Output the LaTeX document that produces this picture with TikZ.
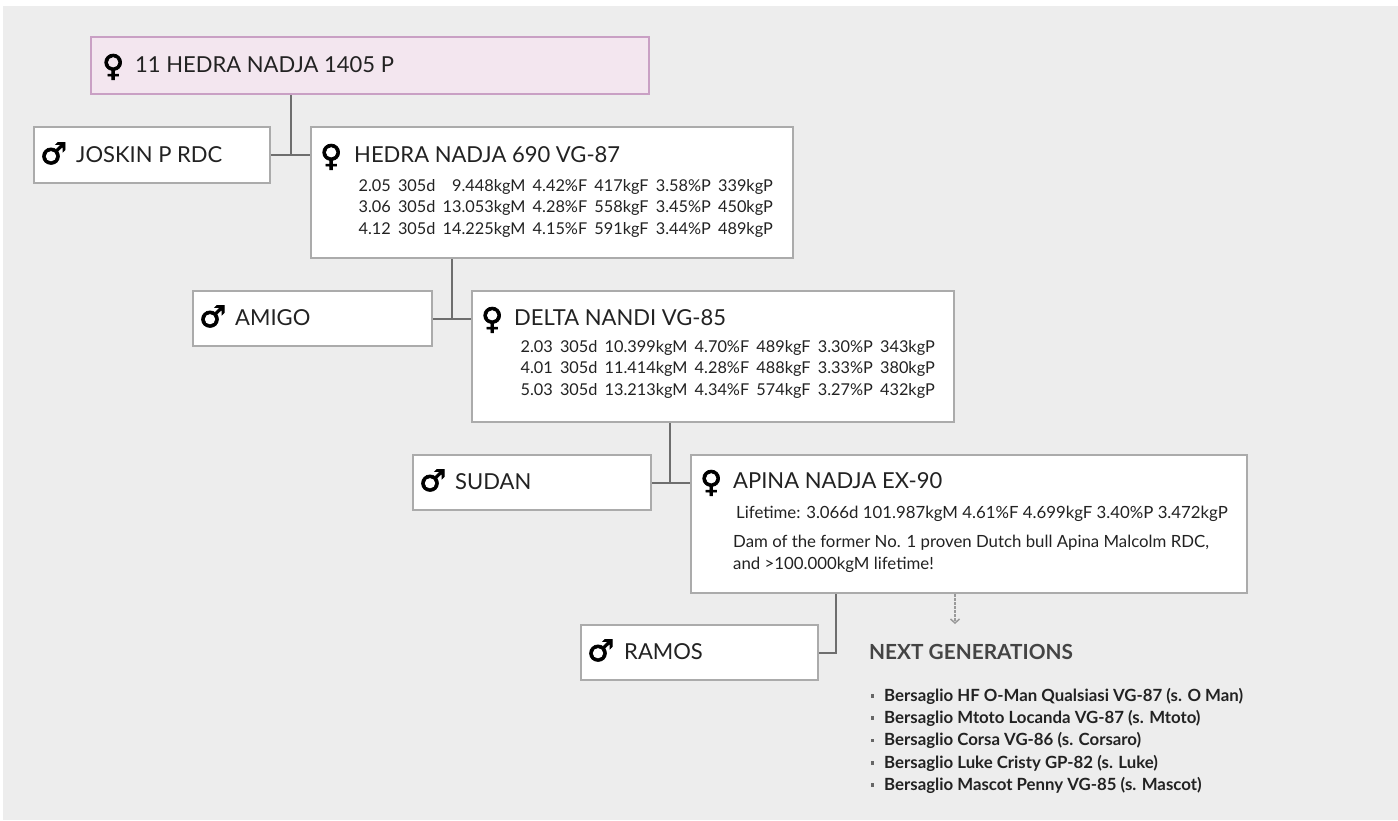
\documentclass[tikz,border=0pt]{standalone}
\usepackage{fontspec}
\setmainfont{Lato}
\newfontfamily\symfont[FakeBold=2.5]{DejaVu Sans Bold}
\usetikzlibrary{arrows.meta}
\definecolor{bg}{HTML}{EDEDED}
\definecolor{boxline}{HTML}{ABABAB}
\definecolor{pinkfill}{HTML}{F3E6EF}
\definecolor{pinkline}{HTML}{C9A0C4}
\definecolor{conn}{HTML}{6E6E6E}
\definecolor{txt}{HTML}{222222}
\definecolor{headtxt}{HTML}{444444}
\definecolor{arr}{HTML}{9A9A9A}
\definecolor{bul}{HTML}{666666}
\tikzset{
  box/.style={draw=boxline, line width=2pt, fill=white, rectangle, inner sep=0pt, anchor=north west},
  rootbox/.style={box, draw=pinkline, fill=pinkfill},
  link/.style={draw=conn, line width=2pt},
  nametxt/.style={anchor=base west, inner sep=0pt, text=txt, font=\fontsize{22}{26}\selectfont},
  sym/.style={anchor=base west, inner sep=0pt, text=black, font=\symfont\fontsize{30}{32}\selectfont},
  stats/.style={anchor=base east, inner sep=0pt, text=txt, font=\fontsize{16.3}{21.8}\selectfont},
  plaintxt/.style={anchor=base west, inner sep=0pt, text=txt, font=\fontsize{16.8}{21.5}\selectfont},
  headline/.style={anchor=base west, inner sep=0pt, text=headtxt, font=\bfseries\fontsize{20.8}{24}\selectfont},
  itemtxt/.style={anchor=base west, inner sep=0pt, text=txt, font=\bfseries\fontsize{16.8}{19}\selectfont},
  bulletmark/.style={rectangle, fill=bul, inner sep=0pt, minimum size=3.5pt},
  dasharrow/.style={draw=arr, line width=1.8pt, dash pattern=on 2.5pt off 1.5pt,
    -{Straight Barb[length=4pt,width=9pt,line width=1.5pt]}}
}
\newcommand{\statrows}[1]{\setlength{\tabcolsep}{3.6pt}\begin{tabular}[t]{@{}rrrrrrr@{}}#1\end{tabular}}
\begin{document}
\begin{tikzpicture}[x=1pt,y=-1pt]
\useasboundingbox (0,0) rectangle (1398,820);
\fill[bg] (3,6) rectangle (1398,820);

% boxes
\node[rootbox, minimum width=558, minimum height=57] (root) at (90,36) {};
\node[box, minimum width=236, minimum height=56] (joskin) at (33,126) {};
\node[box, minimum width=482, minimum height=131] (hedra) at (310,126) {};
\node[box, minimum width=239, minimum height=55] (amigo) at (192,290) {};
\node[box, minimum width=482, minimum height=131] (delta) at (471,290) {};
\node[box, minimum width=238, minimum height=55] (sudan) at (412,454) {};
\node[box, minimum width=556, minimum height=138] (apina) at (690,454) {};
\node[box, minimum width=237, minimum height=55] (ramos) at (580,624) {};

% connectors
\coordinate (c1) at (291,0);
\draw[link] (c1 |- root.south) -- (c1 |- joskin.east);
\draw[link] (joskin.east) -- (hedra.west |- joskin.east);
\coordinate (c2) at (452,0);
\draw[link] (c2 |- hedra.south) -- (c2 |- amigo.east);
\draw[link] (amigo.east) -- (delta.west |- amigo.east);
\coordinate (c3) at (670,0);
\draw[link] (c3 |- delta.south) -- (c3 |- sudan.east);
\draw[link] (sudan.east) -- (apina.west |- sudan.east);
\coordinate (c4) at (836,0);
\draw[link] (c4 |- apina.south) -- (c4 |- ramos.east) -- (ramos.east);
\coordinate (arrend) at (955,624);
\draw[dasharrow] (arrend |- apina.south) -- (arrend);

% texts: root
\node[sym] (rootsym) at (102,76) {♀};
\node[nametxt] (roottxt) at (135,72) {11 HEDRA NADJA 1405 P};
% joskin
\node[sym] (joskinsym) at (40,164) {♂};
\node[nametxt] (joskintxt) at (76,162) {JOSKIN P RDC};
% hedra 690
\node[sym] (hedrasym) at (320,166) {♀};
\node[nametxt] (hedratxt) at (354,162) {HEDRA NADJA 690 VG-87};
\node[stats] (hedrastats) at (773,191) {\statrows{%
2.05 & 305d & 9.448kgM & 4.42\%F & 417kgF & 3.58\%P & 339kgP\\
3.06 & 305d & 13.053kgM & 4.28\%F & 558kgF & 3.45\%P & 450kgP\\
4.12 & 305d & 14.225kgM & 4.15\%F & 591kgF & 3.44\%P & 489kgP}};
% amigo
\node[sym] (amigosym) at (199,327) {♂};
\node[nametxt] (amigotxt) at (235,325) {AMIGO};
% delta
\node[sym] (deltasym) at (481,329) {♀};
\node[nametxt] (deltatxt) at (514,325) {DELTA NANDI VG-85};
\node[stats] (deltastats) at (935,352) {\statrows{%
2.03 & 305d & 10.399kgM & 4.70\%F & 489kgF & 3.30\%P & 343kgP\\
4.01 & 305d & 11.414kgM & 4.28\%F & 488kgF & 3.33\%P & 380kgP\\
5.03 & 305d & 13.213kgM & 4.34\%F & 574kgF & 3.27\%P & 432kgP}};
% sudan
\node[sym] (sudansym) at (419,491) {♂};
\node[nametxt] (sudantxt) at (455,489) {SUDAN};
% apina
\node[sym] (apinasym) at (700,492) {♀};
\node[nametxt] (apinatxt) at (733,488) {APINA NADJA EX-90};
\node[plaintxt] (apinalife) at (736,518) {Lifetime: 3.066d 101.987kgM 4.61\%F 4.699kgF 3.40\%P 3.472kgP};
\node[plaintxt] (apinadam1) at (733,547) {Dam of the former No. 1 proven Dutch bull Apina Malcolm RDC,};
\node[plaintxt] (apinadam2) at (733,569) {and >100.000kgM lifetime!};
% ramos
\node[sym] (ramossym) at (587,661) {♂};
\node[nametxt] (ramostxt) at (624,659) {RAMOS};

% next generations
\node[headline] (nexthead) at (869,659) {NEXT GENERATIONS};
\node[bulletmark] (bu1) at (872.5,696) {};
\node[itemtxt] (it1) at (884,701) {Bersaglio HF O-Man Qualsiasi VG-87 (s. O Man)};
\node[bulletmark] (bu2) at (872.5,718) {};
\node[itemtxt] (it2) at (884,723) {Bersaglio Mtoto Locanda VG-87 (s. Mtoto)};
\node[bulletmark] (bu3) at (872.5,740.5) {};
\node[itemtxt] (it3) at (884,745.5) {Bersaglio Corsa VG-86 (s. Corsaro)};
\node[bulletmark] (bu4) at (872.5,763) {};
\node[itemtxt] (it4) at (884,768) {Bersaglio Luke Cristy GP-82 (s. Luke)};
\node[bulletmark] (bu5) at (872.5,785) {};
\node[itemtxt] (it5) at (884,790) {Bersaglio Mascot Penny VG-85 (s. Mascot)};
\end{tikzpicture}
\end{document}
